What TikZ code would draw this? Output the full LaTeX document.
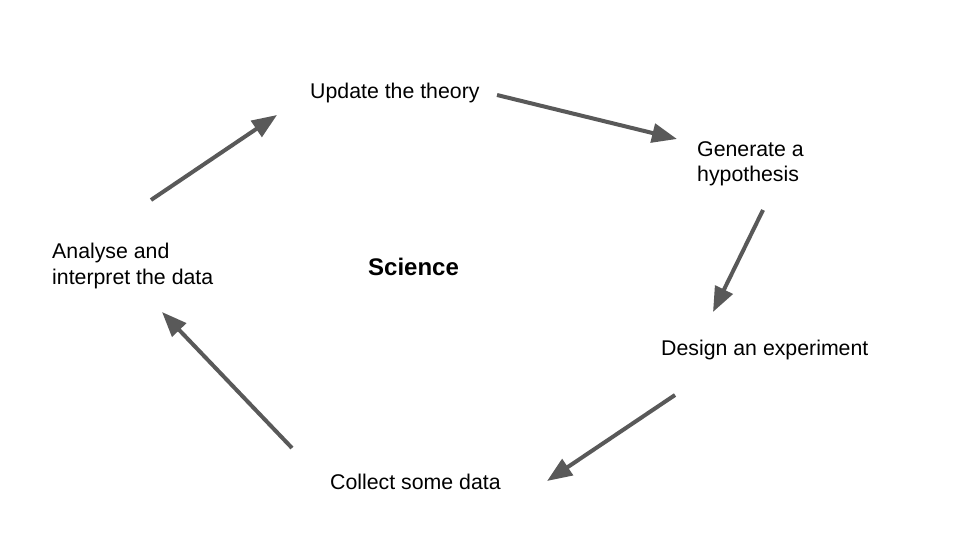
\documentclass[tikz,border=0pt]{standalone}
\usepackage{fontspec}
\setmainfont{Liberation Sans}
\usetikzlibrary{arrows.meta}
\definecolor{arrowgray}{HTML}{595959}
\begin{document}
\begin{tikzpicture}[x=1pt, y=-1pt,
        step label/.style={anchor=base west, inner sep=0pt, align=left,
            font=\fontsize{21.3}{25.5}\selectfont},
        cycle arrow/.style={line width=4pt, arrowgray,
            -{Triangle[length=25pt, width=19pt]}}]
    \useasboundingbox (0,0) rectangle (960,540);
    % steps of the cycle
    \node[step label] (update) at (310,99) {Update the theory};
    \node[step label] (hypothesis) at (697,182) {Generate a\\hypothesis};
    \node[step label] (design) at (661,355) {Design an experiment};
    \node[step label] (collect) at (330,489) {Collect some data};
    \node[step label] (analyse) at (52,284) {Analyse and\\interpret the data};
    \node[step label, font=\fontsize{24}{28}\selectfont\bfseries] (science) at (368,275) {Science};
    % arrow ends
    \coordinate (a1s) at (497,95);  \coordinate (a1e) at (677,139);
    \coordinate (a2s) at (763,210); \coordinate (a2e) at (713,312);
    \coordinate (a3s) at (675,395); \coordinate (a3e) at (547,481);
    \coordinate (a4s) at (292,448); \coordinate (a4e) at (162,312);
    \coordinate (a5s) at (151,200); \coordinate (a5e) at (277,115);
    \foreach \i in {1, 2, ..., 5}
    {
        \draw[cycle arrow] (a\i s) -- (a\i e);
    }
\end{tikzpicture}
\end{document}
